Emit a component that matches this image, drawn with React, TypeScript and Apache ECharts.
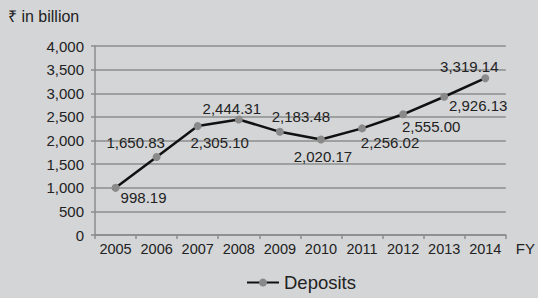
import React, { useEffect, useRef } from "react";
import * as echarts from "echarts";

const categories = ["2005", "2006", "2007", "2008", "2009", "2010", "2011", "2012", "2013", "2014"];
const deposits = [998.19, 1650.83, 2305.1, 2444.31, 2183.48, 2020.17, 2256.02, 2555.0, 2926.13, 3319.14];
const labelOffsets: [number, number][] = [
  [28, 10], [-21, -14], [22, 16], [-7, -11], [21, -15], [2, 17], [28, 14], [28, 12], [34, 9], [-16, -12],
];

const FONT = "'Liberation Sans', Arial, Helvetica, sans-serif";

export default function App() {
  const ref = useRef<HTMLDivElement>(null);
  useEffect(() => {
    const chart = echarts.init(ref.current!, null, { renderer: "svg" });
    const fmt = (v: number) =>
      v.toLocaleString("en-US", { minimumFractionDigits: 2, maximumFractionDigits: 2 });
    chart.setOption({
      animation: false,
      backgroundColor: "#d4d5d7",
      textStyle: { fontFamily: FONT },
      grid: { left: 95, right: 28, top: 46, bottom: 63, containLabel: false },
      graphic: [
        {
          type: "text",
          left: 8,
          top: 8,
          style: { text: "₹ in billion", fontSize: 16, fill: "#222", fontFamily: FONT },
        },
      ],
      legend: {
        bottom: 1,
        left: 241,
        itemWidth: 32,
        itemHeight: 10,
        itemGap: 6,
        textStyle: { fontSize: 18.5, color: "#222", fontFamily: FONT },
        data: ["Deposits"],
      },
      xAxis: {
        type: "category",
        data: categories,
        boundaryGap: true,
        name: "FY",
        nameLocation: "end",
        nameGap: 10,
        nameTextStyle: { fontSize: 15, color: "#222", verticalAlign: "top", padding: [6, 0, 0, 0] },
        axisLine: { lineStyle: { color: "#8c8c8c", width: 1.5 } },
        axisTick: { show: true, length: 4, interval: 0, lineStyle: { color: "#8c8c8c", width: 1.5 } },
        axisLabel: { fontSize: 14.5, color: "#222", margin: 6, interval: 0 },
      },
      yAxis: {
        type: "value",
        min: 0,
        max: 4000,
        interval: 500,
        axisLine: { show: true, lineStyle: { color: "#8c8c8c", width: 1.5 } },
        axisTick: { show: true, length: 4, lineStyle: { color: "#8c8c8c", width: 1.5 } },
        splitLine: { show: true, lineStyle: { color: "#8c8c8c", width: 1.5 } },
        axisLabel: {
          fontSize: 15,
          color: "#222",
          margin: 11,
          formatter: (v: number) => v.toLocaleString("en-US"),
        },
      },
      series: [
        {
          name: "Deposits",
          type: "line",
          data: deposits.map((v, i) => ({
            value: v,
            label: {
              show: true,
              position: "inside",
              offset: labelOffsets[i],
              formatter: () => fmt(v),
              fontSize: 15,
              color: "#222",
              fontFamily: FONT,
            },
          })),
          symbol: "circle",
          symbolSize: 8,
          itemStyle: { color: "#8a8a8a" },
          lineStyle: { color: "#111", width: 2.5 },
        },
      ],
    });
    return () => chart.dispose();
  }, []);
  return (
    <div
      ref={ref}
      style={{ position: "fixed", left: 0, top: 0, width: 538, height: 298 }}
    />
  );
}
